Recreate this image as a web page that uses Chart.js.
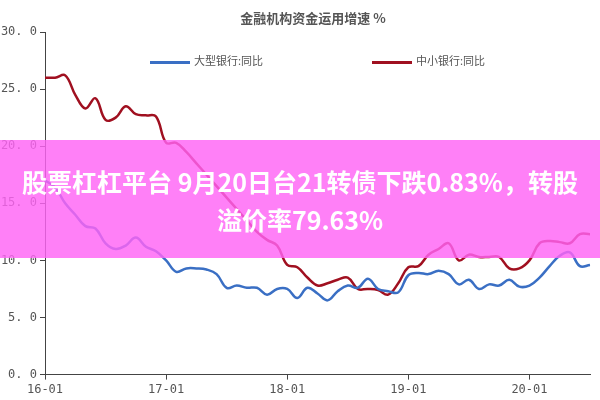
<!DOCTYPE html>
<html>
<head>
<meta charset="utf-8">
<script src="https://cdn.jsdelivr.net/npm/chart.js@4"></script>
<style>
  body { margin:0; background:#fff; font-family:"Noto Sans CJK SC", sans-serif; }
  #wrap { position:relative; width:600px; height:400px; }
  #title { position:absolute; top:8px; left:0; width:626px; text-align:center; font-size:13px; font-weight:bold; color:#555; }
  .leg { position:absolute; top:52px; font-size:11px; color:#555; }
  .leg i { display:inline-block; width:40px; height:3px; vertical-align:middle; margin-right:4px; }
  #banner { position:absolute; left:0; top:140px; width:600px; height:118px; background:rgba(255,100,245,0.82);
    color:#fff; font-weight:bold; font-size:25px; line-height:38px; text-align:center; padding-top:22px; box-sizing:border-box; white-space:nowrap; }
</style>
</head>
<body>
<div id="wrap">
  <canvas id="c" width="600" height="400"></canvas>
  <div id="title">金融机构资金运用增速 %</div>
  <div class="leg" style="left:150px"><i style="background:#3a6fc4"></i>大型银行:同比</div>
  <div class="leg" style="left:372px"><i style="background:#a01020"></i>中小银行:同比</div>
  <div id="banner">股票杠杠平台 9月20日台21转债下跌0.83%，转股<br>溢价率79.63%</div>
</div>
<script>
// 月份标签 16-01 ... 20-07
const months = [];
for (let y = 16; y <= 20; y++) for (let m = 1; m <= 12; m++) months.push(y + '-' + String(m).padStart(2, '0'));
const labels = months.slice(0, 55);

const bigBanks = [17.0,16.4,15.0,14.0,13.0,12.8,11.5,11.0,11.3,12.0,11.2,10.8,10.0,9.0,9.3,9.3,9.2,8.8,7.6,7.8,
  7.6,7.6,7.0,7.5,7.5,6.7,7.6,7.1,6.5,7.3,7.8,7.6,8.4,7.5,7.3,7.2,8.7,8.9,8.8,9.1,
  8.8,7.9,8.3,7.5,7.9,7.8,8.3,7.7,7.8,8.5,9.5,10.4,10.7,9.5,9.6];
const smallBanks = [26.0,26.0,26.2,24.5,23.3,24.2,22.3,22.5,23.5,22.8,22.7,22.6,20.3,20.3,19.5,18.5,17.5,16.5,15.5,14.5,
  13.5,12.5,11.8,11.3,9.6,9.4,8.5,7.8,8.0,8.3,8.5,7.5,7.5,7.4,7.0,8.0,9.4,9.5,10.5,11.0,
  11.5,10.0,10.5,10.3,10.3,10.3,9.3,9.3,10.0,11.5,11.7,11.6,11.5,12.3,12.3];

new Chart(document.getElementById('c'), {
  type: 'line',
  data: {
    labels: labels,
    datasets: [
      { label: '大型银行:同比', data: bigBanks, borderColor: '#3a6fc4', borderWidth: 2.5, pointRadius: 0, tension: 0.4 },
      { label: '中小银行:同比', data: smallBanks, borderColor: '#a01020', borderWidth: 2.5, pointRadius: 0, tension: 0.4 }
    ]
  },
  options: {
    responsive: false,
    animation: false,
    layout: { padding: { top: 32, right: 10, left: 0, bottom: 0 } },
    plugins: { legend: { display: false }, tooltip: { enabled: false } },
    scales: {
      x: {
        offset: false,
        border: { color: '#444', width: 1 },
        grid: { drawOnChartArea: false, tickLength: 5, color: c => (c.index % 12 === 0 ? '#444' : 'transparent') },
        ticks: { autoSkip: false, maxRotation: 0, color: '#555', font: { size: 12, family: 'DejaVu Sans Mono' },
          callback: (v, i) => (i % 12 === 0 ? labels[i] : '') }
      },
      y: {
        min: 0, max: 30,
        afterFit: s => { s.width = 45; },
        border: { color: '#444', width: 1 },
        grid: { drawOnChartArea: false, tickLength: 5, color: '#444' },
        ticks: { stepSize: 5, color: '#555', font: { size: 12, family: 'DejaVu Sans Mono' },
          callback: v => v.toFixed(1).replace('.', '. ') }
      }
    }
  }
});
</script>
</body>
</html>
